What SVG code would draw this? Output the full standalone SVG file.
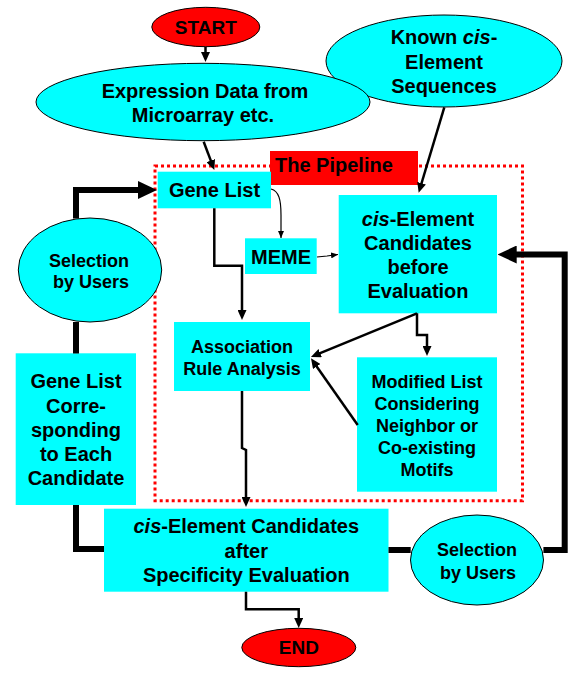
<svg xmlns="http://www.w3.org/2000/svg" width="573" height="675" viewBox="0 0 573 675">
<defs>
<style>
.t{font-family:"Liberation Sans",Arial,Helvetica,sans-serif;font-weight:bold;fill:#000;text-anchor:middle}
.f20{font-size:20px}
.f18{font-size:18px}
.f19{font-size:19px}
.box{fill:#00FFFF}
.ell{fill:#00FFFF;stroke:#000;stroke-width:1}
.red{fill:#FF0000;stroke:#000;stroke-width:1}
.c{fill:none;stroke:#000;stroke-width:2.5;stroke-linejoin:miter}
.cs{fill:none;stroke:#000;stroke-width:1.2}
.ck{fill:none;stroke:#000;stroke-width:6;stroke-linejoin:miter}
.it{font-style:italic}
</style>
<marker id="arr" markerUnits="userSpaceOnUse" markerWidth="10" markerHeight="9" refX="4" refY="4.5" orient="auto">
<path d="M0,0 L10,4.5 L0,9 z" fill="#000"/>
</marker>
<marker id="arrS" markerUnits="userSpaceOnUse" markerWidth="7" markerHeight="6" refX="7" refY="3" orient="auto">
<path d="M0,0 L7,3 L0,6 z" fill="#000"/>
</marker>
<marker id="arrB" markerUnits="userSpaceOnUse" markerWidth="19" markerHeight="18" refX="9" refY="9" orient="auto">
<path d="M0,0 L19,9 L0,18 z" fill="#000"/>
</marker>
</defs>
<rect width="573" height="675" fill="#fff"/>

<g id="known">
<ellipse class="ell" cx="444" cy="61" rx="118" ry="46"/>
<text class="t f20" x="444" y="44">Known <tspan class="it">cis</tspan>-</text>
<text class="t f20" x="444" y="69">Element</text>
<text class="t f20" x="444" y="93">Sequences</text>
</g>
<g id="expression">
<ellipse class="ell" cx="203" cy="102" rx="167" ry="38.7"/>
<text class="t f20" x="205" y="97.7">Expression Data from</text>
<text class="t f20" x="203" y="121.7">Microarray etc.</text>
</g>
<g id="start">
<ellipse class="red" cx="205.8" cy="27" rx="54" ry="19.7"/>
<text class="t f19" x="205.8" y="34">START</text>
</g>

<g id="pipeline">
<rect x="155" y="166" width="367.5" height="334.7" fill="none" stroke="#FF0000" stroke-width="3" stroke-dasharray="3 3"/>
<rect x="270" y="151" width="148" height="34" fill="#FF0000"/>
<text class="t f20" x="275" y="172" style="text-anchor:start">The Pipeline</text>
</g>

<g id="genelist">
<rect class="box" x="157.7" y="171.7" width="113.3" height="36.6"/>
<text class="t f20" x="214.5" y="197">Gene List</text>
</g>
<g id="meme">
<rect class="box" x="245" y="238.3" width="71.7" height="35.7"/>
<text class="t f20" x="281" y="264">MEME</text>
</g>
<g id="cisBefore">
<rect class="box" x="338.7" y="195" width="158.3" height="118.3"/>
<text class="t f20" x="418" y="226"><tspan class="it">cis</tspan>-Element</text>
<text class="t f20" x="418" y="250">Candidates</text>
<text class="t f20" x="418" y="273.5">before</text>
<text class="t f20" x="418" y="297.5">Evaluation</text>
</g>
<g id="association">
<rect class="box" x="174" y="322" width="136" height="69"/>
<text class="t f18" x="242" y="353">Association</text>
<text class="t f18" x="242" y="375">Rule Analysis</text>
</g>
<g id="modified">
<rect class="box" x="357" y="357.3" width="140" height="134.4"/>
<text class="t f18" x="427" y="388.3">Modified List</text>
<text class="t f18" x="427" y="410.3">Considering</text>
<text class="t f18" x="427" y="432.3">Neighbor or</text>
<text class="t f18" x="427" y="454.3">Co-existing</text>
<text class="t f18" x="427" y="476.3">Motifs</text>
</g>
<g id="geneCorr">
<rect class="box" x="15.7" y="353.3" width="120.3" height="151.7"/>
<text class="t f20" x="76" y="388.3">Gene List</text>
<text class="t f20" x="76" y="412.5">Corre-</text>
<text class="t f20" x="76" y="436.7">sponding</text>
<text class="t f20" x="76" y="460.9">to Each</text>
<text class="t f20" x="76" y="485">Candidate</text>
</g>
<g id="selLeft">
<ellipse class="ell" cx="90" cy="270" rx="71.7" ry="52"/>
<text class="t f18" x="89" y="266.7">Selection</text>
<text class="t f18" x="91" y="288">by Users</text>
</g>
<g id="cisAfter">
<rect class="box" x="104" y="508.7" width="284.5" height="83"/>
<text class="t f20" x="246.3" y="533.3"><tspan class="it">cis</tspan>-Element Candidates</text>
<text class="t f20" x="246.3" y="557.7">after</text>
<text class="t f20" x="246.3" y="581.7">Specificity Evaluation</text>
</g>
<g id="selRight">
<ellipse class="ell" cx="477" cy="560" rx="66.5" ry="45"/>
<text class="t f18" x="477" y="556">Selection</text>
<text class="t f18" x="478" y="579">by Users</text>
</g>
<g id="end">
<ellipse class="red" cx="298.8" cy="647.5" rx="57" ry="19.2"/>
<text class="t f19" x="298.8" y="654">END</text>
</g>

<g id="connectors">
<path class="c" d="M205.5,47 L205.5,56" marker-end="url(#arr)"/>
<path class="c" d="M203.7,141.7 L212.2,164.4" marker-end="url(#arr)"/>
<path class="c" d="M444.3,107.3 L420.4,187" marker-end="url(#arr)"/>
<path class="cs" d="M271,189 C279,191 281,200 281,215 L281,238" marker-end="url(#arrS)"/>
<path class="cs" d="M317,257 L327,256 L338,254.5" marker-end="url(#arrS)"/>
<path class="c" d="M214.3,208.3 L214.3,265.7 L242,265.7 L242,314" marker-end="url(#arr)"/>
<path class="c" d="M417,313.3 L316.5,354.7" marker-end="url(#arr)"/>
<path class="c" d="M417,313.3 L417,335 L427,335 L427,350" marker-end="url(#arr)"/>
<path class="c" d="M357.7,425 L314.4,363.2" marker-end="url(#arr)"/>
<path class="c" d="M242,391 L242,448 L246,450 L246,501" marker-end="url(#arr)"/>
<path class="c" d="M246,591.7 L246,609.3 L298.7,609.3 L298.7,622" marker-end="url(#arr)"/>
<path class="ck" d="M76,218.5 L76,190 L147,190" marker-end="url(#arrB)"/>
<path class="ck" d="M76,322 L76,353.5"/>
<path class="ck" d="M76,505 L76,549 L104,549"/>
<path class="ck" d="M388.5,550 L410.7,550"/>
<path class="ck" d="M543.4,550 L564.7,550 L564.7,254.5 L507.7,254.5" marker-end="url(#arrB)"/>
</g>
</svg>
